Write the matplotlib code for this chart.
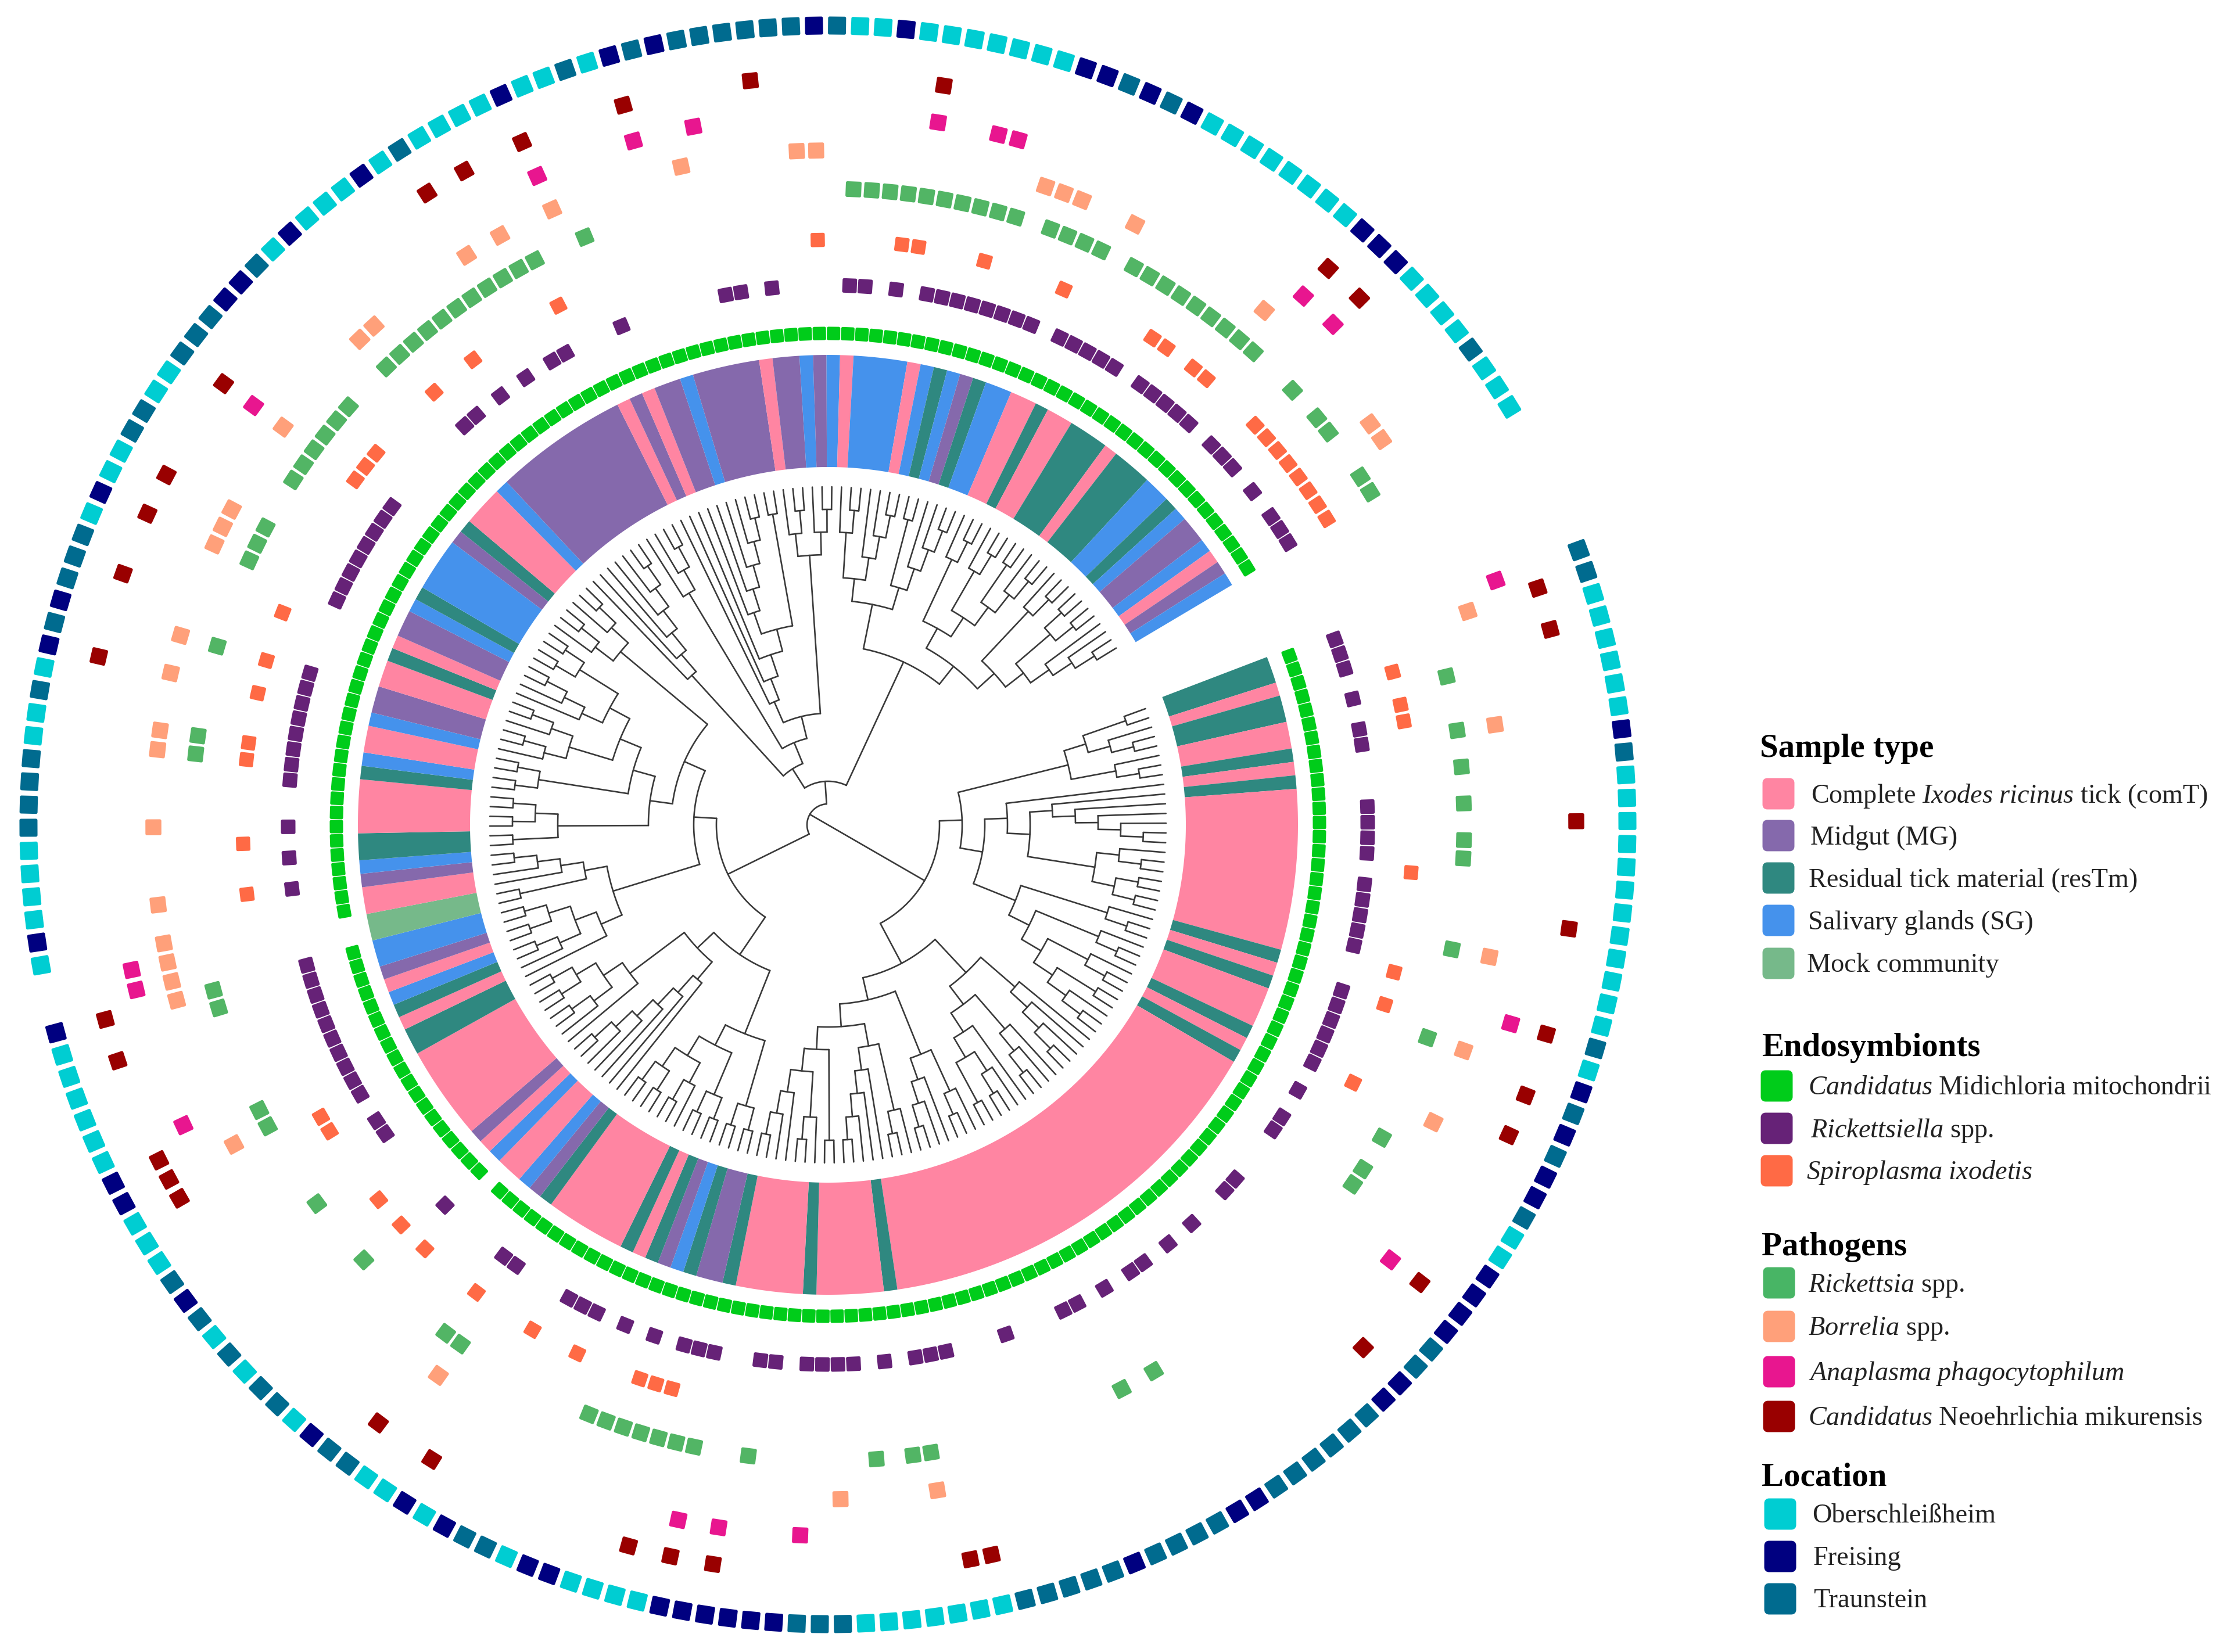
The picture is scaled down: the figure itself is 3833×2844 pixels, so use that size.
import numpy as np
import matplotlib
matplotlib.use("Agg")
import matplotlib.pyplot as plt
from matplotlib.patches import Polygon, FancyBboxPatch

plt.rcParams['font.family'] = 'Liberation Serif'
plt.rcParams['mathtext.fontset'] = 'custom'
plt.rcParams['mathtext.rm'] = 'Liberation Serif'
plt.rcParams['mathtext.it'] = 'Liberation Serif:italic'
plt.rcParams['mathtext.bf'] = 'Liberation Serif:bold'

# sample type along the leaves, clockwise from the gap: run types and run lengths
sample_types = ['T','P','T','P','T','P','T','P','T','P','T','P','T','P','T','P','T','P','T','P','T','M','T','S','M','T','P','T','P','T','M','S','P','S','P','M','P','T','P','T','S','P','M','S','K','P','M','S','T','P','T','S','P','S','M','P','T','P','M','S','T','S','M','T','P','S','M','P','M','P','M','S','M','P','M','S','M','S','P','S','P','S','T','S','M','T','S','P','T','P','T','P','T','S','T','S','M','S','P','M','S']
sample_lengths = [2,1,2,2,1,1,1,12,1,1,1,3,1,1,1,31,1,5,1,5,1,2,1,1,1,1,1,1,6,1,1,1,2,1,1,1,7,2,1,1,1,1,1,2,2,2,1,1,2,4,1,1,2,1,2,2,1,1,2,1,1,4,1,1,3,1,10,1,1,1,2,1,5,1,2,1,1,1,1,4,1,1,1,1,1,1,2,2,1,2,3,1,3,2,1,1,2,1,1,1,1]

# location of each leaf, '-' where the leaf has none
location_codes = ("TTOOOOOOFTOOOOOOOOOOOOTOF"
                  "TFTFFTOOFFFFTTFFTTTTTTFFTTTTFTTTTTOOOOOOOTT"
                  "TFFFFFFOOOOFFOTTFOFOOTTFOTTOTOTFTOOOFFOOOOOOF"
                  "--"
                  "OFOOOOTTTTOOTOFTFTTT"
                  "OFOOTTO"
                  "OTTTFFTOFOOOFOTOOOOFOOTOFTFTTTTTTF"
                  "TOOFOOOOOOOFFTFTFOOOOOOOOFFFOOOOTOOO")

midichloria_absent = [93, 113, 114]
rickettsiella = [0,1,2,4,6,7,11,12,13,14,16,17,18,19,20,23,24,25,26,27,28,30,32,33,37,38,41,43,45,46,48,50,51,55,59,60,61,63,65,66,67,68,70,71,74,75,76,78,80,82,83,84,88,89,94,100,101,103,104,105,106,107,108,109,110,111,112,117,119,121,124,125,126,127,128,129,130,131,136,137,138,139,140,141,142,143,150,151,153,155,157,158,162,169,170,172,177,178,180,182,183,184,185,186,187,188,189,191,192,193,194,195,197,198,199,200,201,203,204,205,207,209,210,211]
spiroplasma = [3,5,6,15,21,23,28,76,77,78,82,85,89,93,95,97,102,103,117,120,125,126,129,131,134,143,144,145,150,153,159,175,180,181,185,190,196,197,199,200,204,205,206,207,208,209,210,211]
rickettsia = [4,7,9,11,13,14,19,24,30,32,33,48,50,61,62,64,71,74,75,76,77,78,79,80,88,89,95,99,104,105,111,112,125,126,131,136,137,138,141,142,143,144,145,146,149,150,151,152,153,154,155,156,157,158,159,162,177,178,179,180,181,182,183,184,185,186,188,189,190,191,193,194,195,196,197,198,199,200,201,204,206,207,210,211]
borrelia = [1,7,19,24,28,61,66,88,104,112,113,114,115,117,121,125,126,129,131,136,137,138,143,149,150,156,158,161,168,174,175,187,188,189,192,200,208,209]
anaplasma = [0,22,35,68,72,74,106,113,114,143,161,166,169,181,184,185,201,203]
neoehrlichia = [1,3,12,17,22,25,27,35,39,59,60,72,74,76,86,89,103,104,105,110,112,129,133,136,138,143,156,158,161,166,172,181,201,203]

# tree topology, one '.' per leaf
clade_0_7 = "(((..)(.(..)))(.(..)))"
clade_8_21 = "(.((.(.(.(.(..)))))((.(..))((..)(..)))))"
clade_22_35 = "((.(..))((.(..))((.(..))((..)(.(..))))))"
clade_36_50 = "((.(.(.(..))))((.(.(..)))(.((.(..))(..)))))"
clade_51_57 = "((.(..))(.(.(..))))"
clade_58_74 = "(((.(..))(.(.(.(..)))))((..)((.(..))(.(.(..))))))"
clade_75_89 = "(((..)(..))(((..)(..))((.(..))((..)(..)))))"
clade_90_104 = "((.(.(.(.(.(..))))))(.((.(..))((..)(..)))))"
clade_105_118 = "((.((.(..))((..)(..))))((..)(.(.(..)))))"
clade_119_142 = "(((..)((..)(..)))(((..)(..))(((.(..))(.(..)))((.(.(..)))((..)(..))))))"
clade_143_148 = "((.(..))(.(..)))"
clade_149_155 = "(.(.(.(.(.(..))))))"
clade_156_176 = "((.(.(..)))((.(.(.((.(.(.(.(..)))))(..)))))((.(..))(.(..)))))"
clade_177_189 = "(((.(..))(.(.(..))))((..)(.(.(..)))))"
clade_190_200 = "((.(..))((.(..))((..)(.(..)))))"
clade_201_211 = "((.(..))(((..)(..))(.(.(..)))))"

tree_arm_1 = "(" + "(" + clade_0_7 + "(" + clade_8_21 + clade_22_35 + "))" + "(" + clade_36_50 + "(" + clade_51_57 + clade_58_74 + ")))"
tree_arm_2 = "(" + "(" + clade_75_89 + clade_90_104 + ")" + "(" + clade_105_118 + "(" + clade_119_142 + clade_143_148 + ")))"
tree_arm_3 = "((" + clade_149_155 + clade_156_176 + ")(" + clade_177_189 + "(" + clade_190_200 + clade_201_211 + ")))"

type_colors = {'P': '#FF85A2', 'M': '#8569AC', 'T': '#2F8880', 'S': '#4592EC', 'K': '#76B98A'}
location_colors = {'O': '#00CDD2', 'F': '#000080', 'T': '#006B8F'}

# figure geometry, in output pixels
cx, cy = 1425, 1420
start_angle = 20.1
leaf_step = 1.652
tip_r = 582
level_step = 39


def leaf_angle(i):
    return start_angle - i * leaf_step


def to_xy(r, angle):
    a = np.radians(angle)
    return cx + r * np.cos(a), cy - r * np.sin(a)


fig = plt.figure(figsize=(38.33, 28.44), dpi=100)
ax = fig.add_axes([0, 0, 1, 1])
ax.set_xlim(0, 3833)
ax.set_ylim(2844, 0)
ax.axis('off')


def parse(s, pos=0):
    # returns a nested list for the bracket string, leaves are None
    kids = []
    pos += 1
    while s[pos] != ')':
        if s[pos] == '.':
            kids.append(None)
            pos += 1
        else:
            node, pos = parse(s, pos)
            kids.append(node)
    return kids, pos + 1


leaf_counter = [0]
tree_lw = 1.9
tree_color = '#3a3a3a'


def layout(node):
    # angle and height of every node, leaves get the next position on the circle
    if node is None:
        a = leaf_angle(leaf_counter[0])
        leaf_counter[0] += 1
        return {'angle': a, 'h': 0, 'kids': []}
    kids = [layout(k) for k in node]
    return {'angle': np.mean([k['angle'] for k in kids]),
            'h': max(k['h'] for k in kids) + 1,
            'kids': kids}


def radius(n):
    return tip_r - n['h'] * level_step


def draw_tree(n):
    if not n['kids']:
        return
    r = radius(n)
    angs = np.linspace(n['kids'][0]['angle'], n['kids'][-1]['angle'], 60)
    x, y = to_xy(r, angs)
    ax.plot(x, y, color=tree_color, lw=tree_lw, solid_capstyle='round')
    for k in n['kids']:
        x, y = to_xy(np.array([r, radius(k)]), k['angle'])
        ax.plot(x, y, color=tree_color, lw=tree_lw, solid_capstyle='round')
        draw_tree(k)


arm_1 = layout(parse(tree_arm_1)[0])
arm_2 = layout(parse(tree_arm_2)[0])
arm_3 = layout(parse(tree_arm_3)[0])
inner = {'angle': np.mean([arm_2['angle'], arm_3['angle']]), 'h': 14, 'kids': [arm_2, arm_3]}
draw_tree(arm_1)
draw_tree(inner)
# the stem of the first arm runs through the centre up to the inner arc
x, y = to_xy(np.array([-radius(inner), radius(arm_1)]), arm_1['angle'])
ax.plot(x, y, color=tree_color, lw=tree_lw)

# sample type ring
first = 0
for t, n in zip(sample_types, sample_lengths):
    a0 = leaf_angle(first) + leaf_step / 2
    a1 = leaf_angle(first + n - 1) - leaf_step / 2
    angs = np.linspace(a0, a1, max(4, n * 4))
    xo, yo = to_xy(616, angs)
    xi, yi = to_xy(809, angs[::-1])
    ax.fill(np.r_[xo, xi], np.r_[yo, yi], color=type_colors[t], lw=0)
    first += n


def tile(i, r, size, color):
    a = leaf_angle(i)
    t = np.radians(a)
    ur = np.array([np.cos(t), -np.sin(t)])
    ut = np.array([np.sin(t), np.cos(t)])
    h = size / 2 - 2.5
    c = np.array([cx, cy]) + r * ur
    pts = [c + h * ur + h * ut, c + h * ur - h * ut, c - h * ur - h * ut, c - h * ur + h * ut]
    ax.add_patch(Polygon(pts, closed=True, facecolor=color, edgecolor=color, lw=3.6, joinstyle='round'))


for i in range(len(location_codes)):
    if i not in midichloria_absent:
        tile(i, 846, 23, '#00CC1A')
for i in rickettsiella:
    tile(i, 929, 25, '#662277')
for i in spiroplasma:
    tile(i, 1007, 24.5, '#FF6A45')
for i in rickettsia:
    tile(i, 1095, 27, '#52B565')
for i in borrelia:
    tile(i, 1161, 27.5, '#FFA07A')
for i in anaplasma:
    tile(i, 1224, 27.5, '#E8168F')
for i in neoehrlichia:
    tile(i, 1288, 27.5, '#990000')
for i, code in enumerate(location_codes):
    if code != '-':
        tile(i, 1376, 31, location_colors[code])

# legend
legend_headings = ['Sample type', 'Endosymbionts', 'Pathogens', 'Location']
heading_x = [3029, 3032, 3032, 3032]
heading_y = [1289, 1804, 2147, 2544]

legend_labels = ['Complete $\\mathit{Ixodes\\ ricinus}$ tick (comT)', 'Midgut (MG)', 'Residual tick material (resTm)',
                 'Salivary glands (SG)', 'Mock community',
                 '$\\mathit{Candidatus}$ Midichloria mitochondrii', '$\\mathit{Rickettsiella}$ spp.', '$\\mathit{Spiroplasma\\ ixodetis}$',
                 '$\\mathit{Rickettsia}$ spp.', '$\\mathit{Borrelia}$ spp.', '$\\mathit{Anaplasma\\ phagocytophilum}$',
                 '$\\mathit{Candidatus}$ Neoehrlichia mikurensis',
                 'Oberschleißheim', 'Freising', 'Traunstein']
legend_colors = ['#FF85A2', '#8569AC', '#2F8880', '#4592EC', '#76B98A',
                 '#00CC1A', '#662277', '#FF6A45',
                 '#48B565', '#FFA07A', '#E8168F', '#990000',
                 '#00CDD2', '#000080', '#006B8F']
swatch_x = [3033, 3033, 3033, 3033, 3033, 3030, 3030, 3030, 3034, 3034, 3034, 3034, 3036, 3036, 3036]
label_x = [3117, 3116, 3113, 3112, 3110, 3112, 3116, 3109, 3112, 3112, 3113, 3112, 3119, 3121, 3121]
row_y = [1367, 1439, 1512, 1585, 1659, 1870, 1943, 2016, 2209, 2284, 2362, 2439, 2607, 2680, 2753]

for name, x, y in zip(legend_headings, heading_x, heading_y):
    ax.text(x, y, name, fontsize=41, fontweight='bold', va='center', ha='left', color='black')

for label, col, sx, lx, y in zip(legend_labels, legend_colors, swatch_x, label_x, row_y):
    ax.add_patch(FancyBboxPatch((sx + 4, y - 24), 48, 47, boxstyle='round,pad=0,rounding_size=5',
                                mutation_aspect=1, facecolor=col, edgecolor=col, lw=5))
    ax.text(lx, y + 3, label, fontsize=33.3, va='center', ha='left', color='#222222')

fig.savefig('out.png', dpi=100, facecolor='white')
